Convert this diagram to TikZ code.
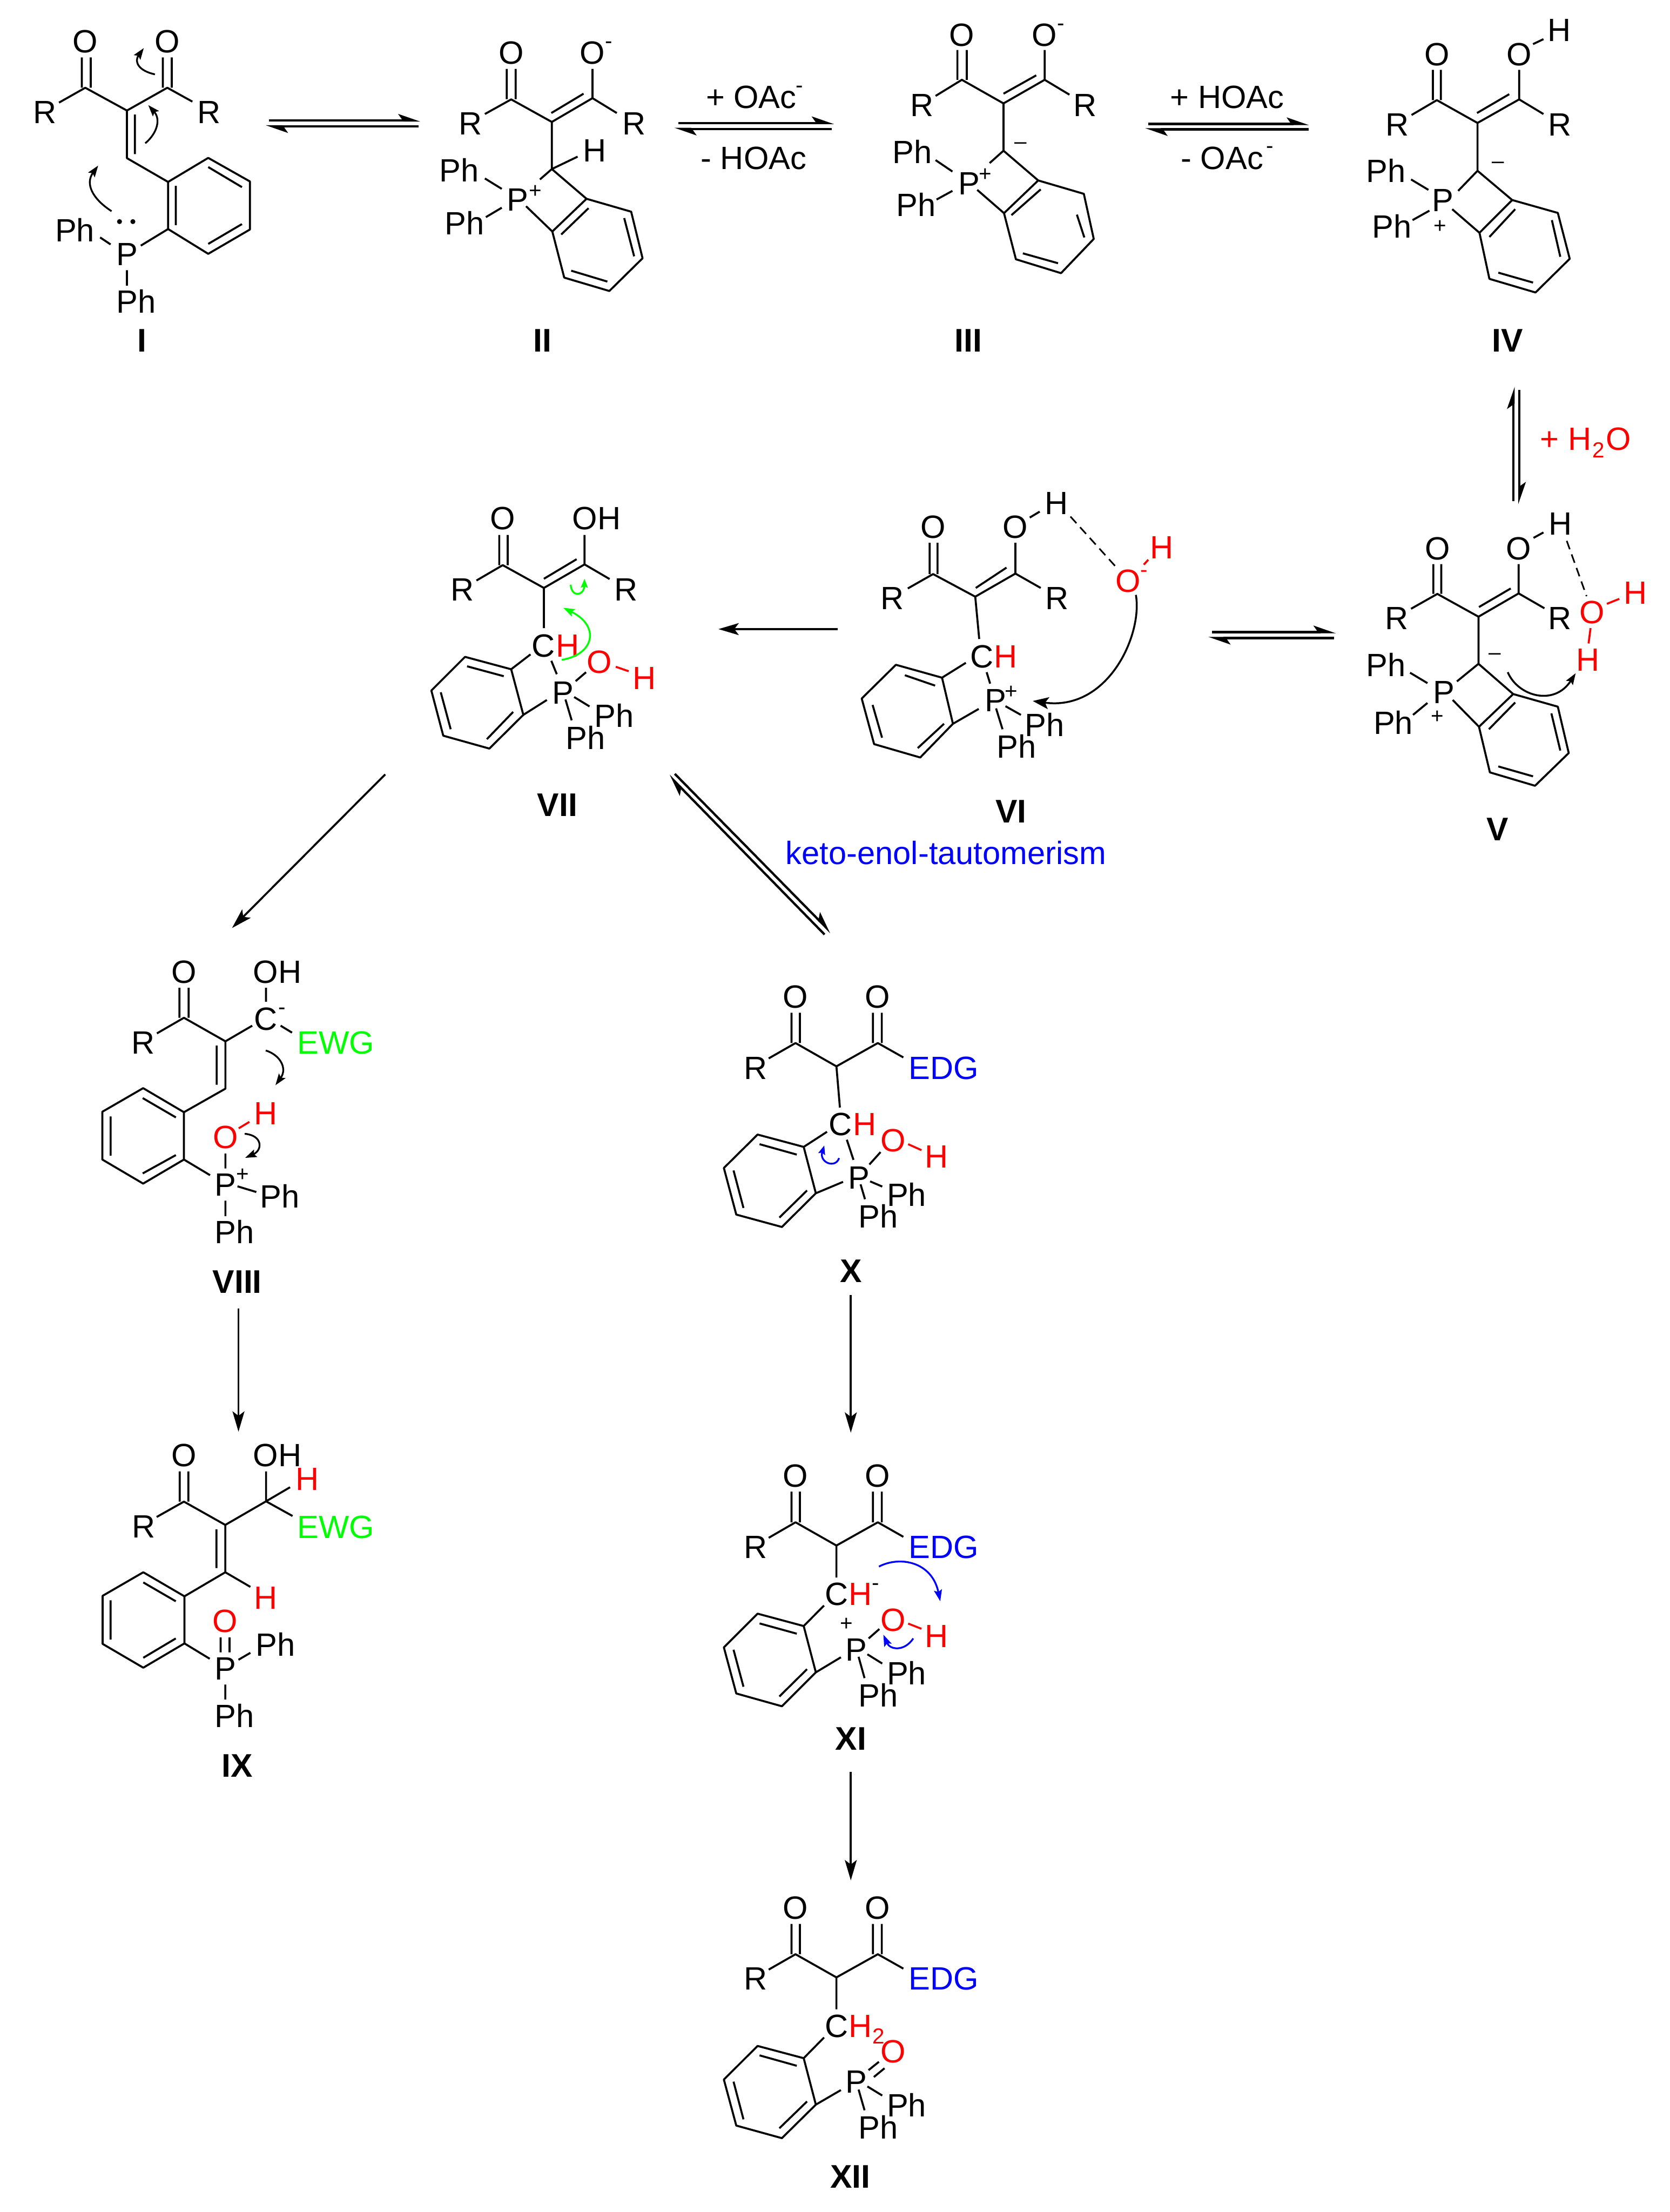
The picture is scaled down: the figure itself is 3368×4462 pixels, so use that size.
\documentclass[tikz,border=0pt]{standalone}
\usepackage{fontspec}
\setmainfont{Liberation Sans}
\usetikzlibrary{arrows.meta}
\definecolor{grn}{RGB}{0,255,0}
\definecolor{blu}{RGB}{0,0,255}
\definecolor{rd}{RGB}{255,0,0}
\newcounter{tn}
\tikzset{
  chem/.style={inner sep=0pt,outer sep=0pt,font=\fontsize{65}{72}\selectfont},
  chgs/.style={inner sep=0pt,outer sep=0pt,font=\fontsize{44}{50}\selectfont},
  nam/.style={inner sep=0pt,outer sep=0pt,font=\fontsize{66}{72}\selectfont\bfseries},
  bond/.style={line width=4pt,line join=round},
  redbond/.style={bond,draw=rd},
  dashb/.style={line width=3.2pt,dash pattern=on 18pt off 11pt},
  rxn/.style={line width=4.6pt,-{Stealth[harpoon,length=38pt,width=26pt,inset=9pt]}},
  fwd/.style={line width=4pt,-{Stealth[length=41pt,width=24pt,inset=9pt]}},
  curv/.style={line width=3.6pt,-{Stealth[length=23pt,width=16pt,inset=4pt]}},
  curvS/.style={line width=3.6pt,-{Stealth[length=18pt,width=14pt,inset=3pt]}},
  curvL/.style={line width=3.8pt,-{Stealth[length=32pt,width=24pt,inset=7pt]}}
}
\newcommand\lbl[4][black]{\node[chem,text=#1,anchor=base] (t\arabic{tn}) at (#2,#3) {#4};\stepcounter{tn}}
\newcommand\chg[4][black]{\node[chgs,text=#1,anchor=center] (t\arabic{tn}) at (#2,#3) {#4};\stepcounter{tn}}
\newcommand\nm[3]{\node[nam,anchor=base] (t\arabic{tn}) at (#1,#2) {#3};\stepcounter{tn}}
\newcommand\dotp[2]{\fill (#1,#2) circle (5pt);}
\begin{document}
\begin{tikzpicture}[x=1pt,y=-1pt]
\useasboundingbox (0,0) rectangle (3368,4462);
% ---------- I
\draw[bond] (165,116)--(165,177) (183,116)--(183,177) (328.5,116)--(328.5,177) (346.5,116)--(346.5,177)
 (119,207)--(172,177)--(256,223)--(337.5,177)--(388,205)
 (256,223)--(256,319)--(339,367) (272,231)--(272,311)
 (339,367)--(420,318.5)--(504,366)--(504,463)--(420,512)--(339,462)--cycle
 (420,337)--(488,377.5) (488,452)--(420,492) (354.5,375)--(354.5,454)
 (339,462)--(284,495.5) (202,479)--(223,493) (256,545)--(256,576);
\lbl{172}{106}{O}\lbl{337.5}{106}{O}\lbl{91}{249}{R}\lbl{422}{249}{R}
\lbl{256.5}{535.5}{P}\lbl{151}{487.5}{Ph}\lbl{275}{631}{Ph}
\dotp{241}{447}\dotp{268}{447}
\draw[curv] (312.5,150) .. controls (280,143) and (270,125) .. (290,97);
\draw[curv] (293,289) .. controls (318,268) and (324,240) .. (299,212);
\draw[curv] (225,426) .. controls (185,400) and (172,370) .. (198,334);
\nm{286}{710}{I}
% eq I-II
\coordinate (a1) at (542,243); \coordinate (a2) at (848,243);
\coordinate (a3) at (844,255); \coordinate (a4) at (536,255);
\draw[rxn] (a1)--(a2); \draw[rxn] (a3)--(a4);
% ---------- II
\draw[bond] (1022,139)--(1022,200) (1040,139)--(1040,200) (1195,139)--(1195,198)
 (978,230)--(1031,200.5)--(1113,246)--(1195,198)--(1244,228)
 (1112,228)--(1177,189) (1113,246)--(1113,341)--(1165,316) (1113,341)--(1089,362)
 (1113,341)--(1183,401)
 (1183,401)--(1273,427)--(1296,521)--(1229,587)--(1138,560)--(1114,467)--cycle
 (1187,420)--(1132,473) (1259,440)--(1279,517) (1152,546)--(1225,568)
 (978,360)--(1012,381) (1012,419)--(980,438) (1061,416)--(1114,467);
\lbl{1031}{129}{O}\lbl{1195}{129}{O}\chg{1228}{91}{-}\lbl{949}{272}{R}\lbl{1279}{272}{R}
\lbl{1199}{326.5}{H}\lbl{1044}{425}{P}\chg{1080}{387}{+}\lbl{926}{367}{Ph}\lbl{937}{473}{Ph}
\nm{1094}{710}{II}
% eq II-III
\coordinate (b1) at (1368,248); \coordinate (b2) at (1682,248);
\coordinate (b3) at (1678,260); \coordinate (b4) at (1360,260);
\draw[rxn] (b1)--(b2); \draw[rxn] (b3)--(b4);
\lbl{1515}{218}{+ OAc}\chg{1613}{180}{-}\lbl{1520}{341}{- HOAc}
% ---------- III
\draw[bond] (1931,101)--(1931,161) (1950,101)--(1950,161) (2107,101)--(2107,161)
 (1887,193.5)--(1940,161)--(2024,208.6)--(2107,161)--(2157,191)
 (2024,189)--(2090,152) (2024,208.6)--(2024,304)--(1996,329)
 (2024,304)--(2094,364)
 (2094,364)--(2186,391)--(2206,482)--(2140,551)--(2049,523)--(2025,430)--cycle
 (2099,382)--(2040,434) (2172,433)--(2187,479) (2063,511)--(2134,531)
 (1887,323)--(1921,346) (1921,385)--(1889,402.5) (1971,383)--(2025,430);
\lbl{1940}{93}{O}\lbl{2107}{93}{O}\chg{2140}{55}{-}\lbl{1860}{235}{R}\lbl{2188}{235}{R}
\chg{2059}{293.5}{–}\lbl{1955}{392.6}{P}\chg{1987}{353}{+}\lbl{1840}{330}{Ph}\lbl{1848}{436.5}{Ph}
\nm{1953}{710}{III}
% eq III-IV
\coordinate (c1) at (2316,250); \coordinate (c2) at (2640,250);
\coordinate (c3) at (2640,261); \coordinate (c4) at (2310,261);
\draw[rxn] (c1)--(c2); \draw[rxn] (c3)--(c4);
\lbl{2475}{218}{+ HOAc}\lbl{2465}{341}{- OAc}\chg{2561}{302}{-}
% ---------- IV
\draw[bond] (2890,141)--(2890,202) (2906,141)--(2906,202) (3064,141)--(3064,200)
 (2847,232)--(2898,202)--(2980,248)--(3064,200.5)--(3113,230) (2979,228)--(3044,190)
 (2980,248)--(2980,344.5)--(2941,385)
 (2980,344.5)--(3050,403.5)
 (3050,403.5)--(3142,429.5)--(3166,522)--(3097,590)--(3004,562.5)--(2984,469.6)--cycle
 (3056,422)--(3004,478) (3130,444)--(3147,518) (3022,550)--(3092,570)
 (3092,89)--(3113,79) (2846,362)--(2881,383) (2883,425)--(2849,444) (2929,422)--(2984,469.6);
\lbl{2898}{132}{O}\lbl{3064}{132}{O}\lbl{3145}{83}{H}\lbl{2818}{274}{R}\lbl{3146}{274}{R}
\chg{3022}{333}{–}\lbl{2910}{427}{P}\chg{2904}{457}{+}\lbl{2795}{368}{Ph}\lbl{2807}{480}{Ph}
\nm{3041}{710}{IV}
% eq IV-V
\coordinate (d1) at (3052.7,1011); \coordinate (d2) at (3052.7,780);
\coordinate (d3) at (3064.5,786); \coordinate (d4) at (3064.5,1017);
\draw[rxn] (d1)--(d2); \draw[rxn] (d3)--(d4);
\lbl[rd]{3125}{908}{+}\lbl[rd]{3186}{908}{H}\node[chgs,text=rd,anchor=base] (h2a) at (3224,923) {2};\lbl[rd]{3264.5}{908}{O}
% ---------- V
\draw[bond] (2891,1138)--(2891,1198) (2907,1138)--(2907,1198) (3063,1138)--(3063,1197)
 (2846,1228)--(2899,1198)--(2982,1244)--(3063,1197)--(3115,1227) (2983,1224.5)--(3047,1187)
 (2982,1244)--(2982,1339)--(2938.5,1374.5)
 (2982,1339)--(3052,1400)
 (3052,1400)--(3142,1425.5)--(3164,1519)--(3096,1585)--(3005,1558)--(2983,1466)--cycle
 (3056,1417)--(3003,1471) (3129,1439)--(3147,1514) (3022,1546)--(3092,1566)
 (3093,1085)--(3113,1074) (2844,1357)--(2879,1378) (2879,1418)--(2850,1442) (2930,1412)--(2983,1466);
\draw[redbond] (3241,1218)--(3266,1208) (3208,1267)--(3204,1298);
\draw[dashb] (3160,1091)--(3200,1202.5);
\lbl{2899}{1129}{O}\lbl{3063}{1129}{O}\lbl{3147}{1079}{H}\lbl{2817}{1270}{R}\lbl{3146}{1270}{R}
\chg{3015}{1324}{–}\lbl{2912}{1419}{P}\chg{2899}{1446}{+}\lbl{2795}{1364}{Ph}\lbl{2810}{1481}{Ph}
\lbl[rd]{3211}{1258}{O}\lbl[rd]{3299}{1218}{H}\lbl[rd]{3203}{1353}{H}
\draw[curv,line width=3.8pt] (3041,1356) .. controls (3062,1405) and (3135,1425) .. (3178,1358);
\nm{3020}{1696}{V}
% eq VI-V
\coordinate (e1) at (2444,1275); \coordinate (e2) at (2694,1275);
\coordinate (e3) at (2691,1287); \coordinate (e4) at (2437,1287);
\draw[rxn] (e1)--(e2); \draw[rxn] (e3)--(e4);
% ---------- VI
\draw[bond] (1875,1095)--(1875,1158) (1891,1095)--(1891,1158) (2048,1095)--(2048,1157)
 (1831,1187)--(1882,1158)--(1967,1203.6)--(2048,1157)--(2099,1186) (1968,1186)--(2030,1145)
 (1967,1203.6)--(1975,1289) (1948,1337)--(1900,1367)
 (1900,1367)--(1922,1460)--(1856,1528)--(1763,1501)--(1738,1409)--(1807,1341)--cycle
 (1825,1362)--(1886,1383) (1760,1422)--(1779,1488) (1851,1509)--(1904,1460)
 (1990,1356)--(1997,1379) (2028,1424.5)--(2059,1442) (2009,1429)--(2022,1471) (1974,1430)--(1922,1460)
 (2077,1044)--(2097,1032);
\draw[redbond] (2307,1139)--(2316,1129);
\draw[dashb] (2159,1042)--(2253,1146);
\lbl{1882}{1086}{O}\lbl{2048}{1086}{O}\lbl{2131}{1038}{H}\lbl{1800}{1229}{R}\lbl{2132}{1229}{R}
\lbl{1980}{1347}{C}\lbl[rd]{2028}{1347}{H}\lbl{2008}{1435}{P}\chg{2040}{1396}{+}
\lbl{2107}{1485}{Ph}\lbl{2050}{1529}{Ph}
\lbl[rd]{2275}{1195}{O}\chg[rd]{2308}{1157}{-}\lbl[rd]{2343}{1127}{H}
\draw[curvL] (2291,1200) .. controls (2305,1280) and (2235,1435) .. (2083,1414);
\nm{2039}{1660}{VI}
\lbl[blu]{1908}{1743}{keto-enol-tautomerism}
% VI -> VII
\coordinate (f1) at (1690,1269); \coordinate (f2) at (1449,1269);
\draw[fwd] (f1)--(f2);
% ---------- VII
\draw[bond] (1007,1079)--(1007,1140) (1024,1079)--(1024,1140) (1179,1079)--(1179,1138.5)
 (961,1171)--(1014,1140)--(1097,1186)--(1179,1138.5)--(1229.5,1168) (1097,1167.5)--(1163,1128)
 (1097,1186)--(1097,1267) (1070,1320)--(1031,1350)
 (1031,1350)--(1055.5,1442)--(987,1510)--(894,1484)--(870,1393)--(938,1325)--cycle
 (942,1344)--(1016,1364) (889,1396.5)--(909,1471) (982,1491)--(1035,1436)
 (1112,1333)--(1123,1360) (1161,1374)--(1182,1356) (1158,1406)--(1189,1425) (1140.5,1411)--(1153,1453) (1103,1412)--(1055.5,1442);
\draw[redbond] (1242,1345)--(1268,1354);
\lbl{1014}{1068}{O}\lbl{1203}{1068}{OH}\lbl{932}{1212}{R}\lbl{1263}{1212}{R}
\lbl{1096}{1325}{C}\lbl[rd]{1145}{1325}{H}\lbl{1136}{1420}{P}
\lbl[rd]{1209}{1358}{O}\lbl[rd]{1300}{1391}{H}\lbl{1239}{1467}{Ph}\lbl{1181}{1511}{Ph}
\draw[curv,draw=grn] (1133,1331) .. controls (1200,1320) and (1210,1262) .. (1136,1226);
\draw[curvS,draw=grn] (1151,1179.5) .. controls (1153,1206) and (1178,1202) .. (1179,1167.5);
\nm{1124}{1646}{VII}
% VII <-> X
\coordinate (g1) at (1663,1885); \coordinate (g2) at (1349,1564);
\coordinate (g3) at (1361,1561); \coordinate (g4) at (1676,1881);
\draw[rxn] (g1)--(g2); \draw[rxn] (g3)--(g4);
% VII -> VIII
\coordinate (h1) at (777,1562); \coordinate (h2) at (468,1872);
\draw[fwd] (h1)--(h2);
% ---------- VIII
\draw[bond] (362,1992.5)--(362,2053) (380.5,1992.5)--(380.5,2053) (536.5,1992.5)--(536.5,2020.6)
 (316.5,2084.5)--(371,2053)--(454.7,2100.5)--(508.7,2069) (566,2069)--(589,2083)
 (454.7,2100.5)--(454.7,2196)--(371,2243.5) (437,2109)--(437,2188)
 (371,2243.5)--(371,2339)--(288.7,2387.5)--(206.4,2339)--(206.4,2242.6)--(288.7,2195)--cycle
 (287.8,2215)--(354.7,2254) (223.2,2252)--(223.2,2331) (287.8,2367)--(354.7,2330)
 (454.7,2327)--(454.7,2357) (371,2339)--(423.6,2370.5) (479,2393)--(517,2404.5) (454.7,2422)--(454.7,2453);
\draw[redbond] (481.5,2276)--(503,2263);
\lbl{371}{1983}{O}\lbl{559.5}{1983}{OH}\lbl{536}{2078}{C}\chg{568.5}{2040}{-}\lbl{289}{2126}{R}\lbl[grn]{677}{2126}{EWG}
\lbl{454.7}{2412}{P}\chg{489.6}{2370.5}{+}\lbl[rd]{454.7}{2316}{O}\lbl[rd]{536}{2269}{H}
\lbl{564}{2436.5}{Ph}\lbl{472.5}{2508.7}{Ph}
\draw[curv] (536,2119) .. controls (565,2128) and (580,2155) .. (555.6,2189);
\draw[curv] (493.4,2287) .. controls (530,2290) and (530,2320) .. (494.4,2335.6);
\nm{478.6}{2608}{VIII}
% VIII -> IX
\coordinate (i1) at (481,2640); \coordinate (i2) at (481,2888);
\draw[fwd] (i1)--(i2);
% ---------- IX
\draw[bond] (362.5,2968)--(362.5,3029) (380,2968)--(380,3029) (536.6,2968)--(536.6,3028.4)
 (316,3060)--(371,3029)--(454.4,3076)--(536.6,3028.4)--(585,3000) (536.6,3028.4)--(590,3058)
 (454.4,3076)--(454.4,3171.5)--(372,3220) (436.6,3085)--(436.6,3163) (454.4,3171.5)--(505,3201)
 (372,3220)--(372,3315)--(289,3364)--(207,3316)--(207,3219)--(289,3171.5)--cycle
 (289,3192)--(354.5,3230) (223,3228)--(223,3307) (289,3344)--(354.5,3305)
 (445,3303)--(445,3333) (463,3303)--(463,3333)
 (372,3315)--(423,3346) (481,3348)--(505,3334) (454.4,3398)--(454.4,3428);
\lbl{371}{2958}{O}\lbl{559.5}{2958}{OH}\lbl[rd]{620}{3006.5}{H}\lbl{289.5}{3102}{R}\lbl[grn]{677}{3102.6}{EWG}
\lbl[rd]{536.5}{3246}{H}\lbl[rd]{453.5}{3292}{O}\lbl{454.5}{3388}{P}\lbl{555.5}{3340}{Ph}\lbl{473}{3484.5}{Ph}
\nm{478}{3585}{IX}
% ---------- X
\draw[bond] (1596.4,2043)--(1596.4,2104) (1613.4,2043)--(1613.4,2104) (1760.7,2043)--(1760.7,2104) (1778.5,2043)--(1778.5,2104)
 (1550.4,2135)--(1604.5,2104)--(1687,2151)--(1770.5,2104)--(1822,2133)
 (1687,2151)--(1694,2234) (1668,2283)--(1621,2313.5)
 (1621,2313.5)--(1645.5,2407)--(1577,2475)--(1485,2450)--(1460,2356)--(1528,2288.6)--cycle
 (1532,2308)--(1607,2329) (1479.5,2361)--(1499.5,2436.6) (1572,2456)--(1627.7,2401.4)
 (1708,2299)--(1721.4,2339.6) (1753.5,2349)--(1776,2324) (1755,2383)--(1779.4,2393.5) (1735.7,2389)--(1744.6,2419) (1645.5,2407)--(1700.4,2384);
\draw[redbond] (1831.7,2308)--(1858.5,2320);
\lbl{1604.5}{2033}{O}\lbl{1769.6}{2033}{O}\lbl{1524}{2177}{R}\lbl[blu]{1903}{2177.5}{EDG}
\lbl{1695}{2290.7}{C}\lbl[rd]{1744}{2290.7}{H}\lbl{1733}{2398.5}{P}\lbl[rd]{1801}{2323}{O}\lbl[rd]{1889.5}{2356}{H}
\lbl{1828.5}{2432.5}{Ph}\lbl{1771}{2477}{Ph}
\draw[curvS,draw=blu] (1692.4,2336) .. controls (1685,2358) and (1652,2345) .. (1662.5,2310.6);
\nm{1716}{2587}{X}
% X -> XI
\coordinate (j1) at (1716,2612); \coordinate (j2) at (1716,2890);
\draw[fwd] (j1)--(j2);
% ---------- XI
\draw[bond] (1596.4,3009)--(1596.4,3070.7) (1613.4,3009)--(1613.4,3070.7) (1760.7,3009)--(1760.7,3070.7) (1778.5,3009)--(1778.5,3070.7)
 (1550.4,3102)--(1604.5,3070.7)--(1687,3117.6)--(1770.5,3070.7)--(1822,3100)
 (1687,3117.6)--(1687,3182) (1662,3238.6)--(1621,3280)
 (1621,3280)--(1645.5,3373.4)--(1577,3441.8)--(1485,3416)--(1460,3323)--(1528,3255)--cycle
 (1532,3274.7)--(1607,3295.4) (1479.5,3327.8)--(1499.5,3402.4) (1572,3422)--(1627.7,3367)
 (1752,3305)--(1773.6,3286) (1749.5,3337)--(1779.4,3355.6) (1731.7,3342)--(1743.7,3385) (1645.5,3373.4)--(1696,3343);
\draw[redbond] (1831.7,3275)--(1858.5,3285.5);
\lbl{1604.5}{3000}{O}\lbl{1769.6}{3000}{O}\lbl{1524}{3143}{R}\lbl[blu]{1903}{3143}{EDG}
\lbl{1687}{3238.6}{C}\lbl[rd]{1735}{3238.6}{H}\chg{1766}{3200.5}{-}\chg{1707}{3277}{+}\lbl{1727.5}{3350}{P}
\lbl[rd]{1801}{3290}{O}\lbl[rd]{1889.5}{3323}{H}\lbl{1828.5}{3398}{Ph}\lbl{1771}{3443}{Ph}
\draw[curv,draw=blu] (1772.8,3160) .. controls (1815,3138) and (1880,3150) .. (1896.4,3230);
\draw[curv,draw=blu] (1842,3305) .. controls (1824,3332) and (1795,3328) .. (1781.7,3297.5);
\nm{1716}{3530}{XI}
% XI -> XII
\coordinate (k1) at (1716,3574); \coordinate (k2) at (1716,3793);
\draw[fwd] (k1)--(k2);
% ---------- XII
\draw[bond] (1596.4,3881)--(1596.4,3942) (1613.4,3881)--(1613.4,3942) (1760.7,3881)--(1760.7,3942) (1778.5,3881)--(1778.5,3942)
 (1550.4,3973)--(1604.5,3942)--(1687,3988.7)--(1770.5,3942)--(1822,3971)
 (1687,3988.7)--(1687,4053) (1662,4110)--(1621,4151.7)
 (1621,4151.7)--(1645.5,4245.4)--(1577,4313)--(1485,4287.6)--(1460,4194.8)--(1528,4127)--cycle
 (1532,4146)--(1607,4167) (1479.5,4199)--(1499.5,4275) (1572,4293)--(1627.7,4239)
 (1751.8,4175.8)--(1772.7,4159) (1762.5,4189.7)--(1784,4172)
 (1749.5,4208.7)--(1779.4,4227) (1731.7,4215)--(1743.7,4256.8) (1645.5,4245.4)--(1696,4216);
\lbl{1604.5}{3871}{O}\lbl{1769.6}{3871}{O}\lbl{1524}{4014}{R}\lbl[blu]{1903}{4014}{EDG}
\lbl{1687}{4110}{C}\lbl[rd]{1735}{4110}{H}\node[chgs,text=rd,anchor=base] (h2b) at (1772,4123) {2};
\lbl[rd]{1801}{4161}{O}\lbl{1727.5}{4222}{P}\lbl{1828.5}{4270}{Ph}\lbl{1771}{4314}{Ph}
\nm{1715}{4414}{XII}
\end{tikzpicture}
\end{document}
